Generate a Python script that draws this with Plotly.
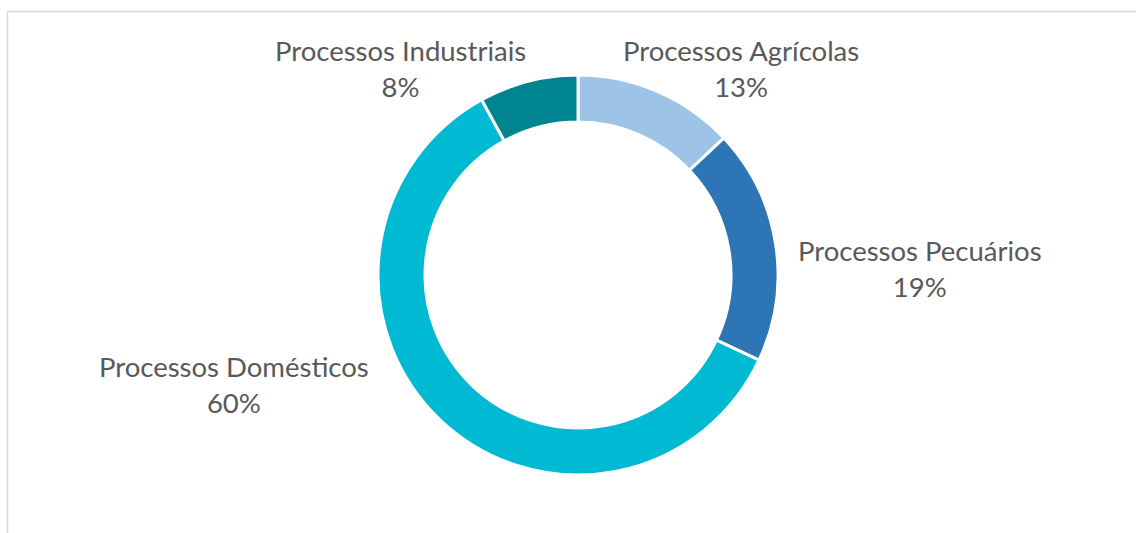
import plotly.graph_objects as go

# Share of each source (%)
categories = ["Processos Agrícolas", "Processos Pecuários", "Processos Domésticos", "Processos Industriais"]
shares = [13, 19, 60, 8]
colors = ["#9DC3E6", "#2E75B6", "#00BAD3", "#00848F"]

W, H = 1136, 533
cx, cy, r = 578, 275, 200  # donut centre and outer radius, in pixels


def px_x(x):
    return x / W


def px_y(y):
    return (H - y) / H


fig = go.Figure(
    go.Pie(
        labels=categories,
        values=shares,
        hole=0.765,
        sort=False,
        direction="clockwise",
        rotation=0,
        textinfo="none",
        hoverinfo="label+percent",
        marker=dict(colors=colors, line=dict(color="white", width=3)),
        domain=dict(x=[px_x(cx - r), px_x(cx + r)], y=[px_y(cy + r), px_y(cy - r)]),
        showlegend=False,
    )
)

# Label anchor points (pixel centres) for each category
label_pos = {
    "Processos Agrícolas": (741, 68),
    "Processos Pecuários": (920, 268),
    "Processos Domésticos": (234, 385),
    "Processos Industriais": (400, 68),
}

for name, val in zip(categories, shares):
    x, y = label_pos[name]
    fig.add_annotation(
        x=px_x(x), y=px_y(y), xref="paper", yref="paper",
        text=f"{name}<br>{val}%", showarrow=False,
        xanchor="center", yanchor="middle", align="center",
        font=dict(family="Lato", size=27.5, color="#595959"),
    )

# Chart-area border
fig.add_shape(
    type="rect", xref="paper", yref="paper",
    x0=px_x(7.5), x1=1.2, y0=-0.2, y1=px_y(11.5),
    line=dict(color="#D9D9D9", width=1.5), fillcolor="rgba(0,0,0,0)", layer="below",
)

fig.update_layout(
    width=W, height=H,
    margin=dict(l=0, r=0, t=0, b=0),
    paper_bgcolor="white", plot_bgcolor="white",
)

fig.write_html("out.html")
